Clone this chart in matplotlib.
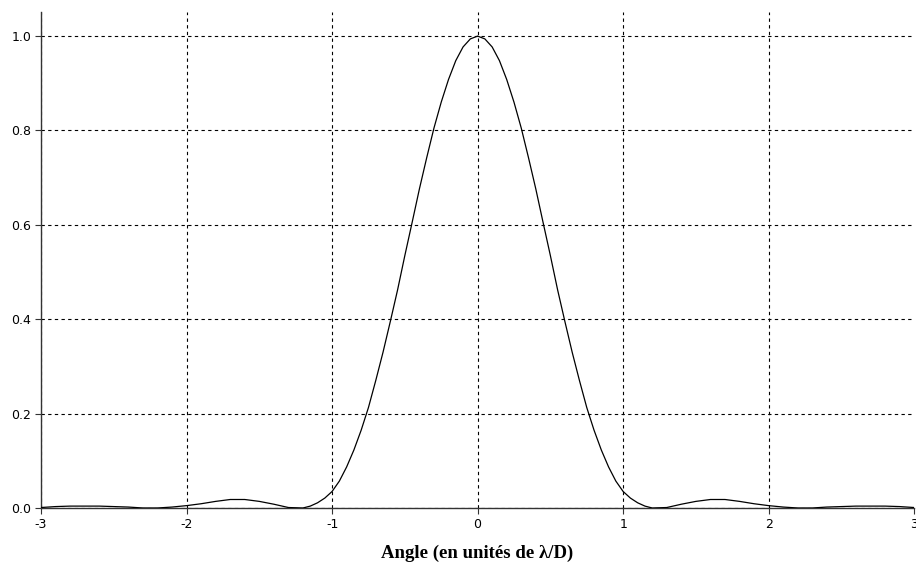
import matplotlib
matplotlib.use("Agg")
import matplotlib.pyplot as plt
from matplotlib.ticker import MultipleLocator, FuncFormatter

# ───────── Data ──────────────────────────────────────────────────────
angle = [-3.00, -2.90, -2.80, -2.70, -2.60, -2.50, -2.40, -2.30, -2.20, -2.10,
         -2.00, -1.90, -1.80, -1.70, -1.60, -1.50, -1.40, -1.30, -1.20, -1.15,
         -1.10, -1.05, -1.00, -0.95, -0.90, -0.85, -0.80, -0.75, -0.70, -0.65,
         -0.60, -0.55, -0.50, -0.45, -0.40, -0.35, -0.30, -0.25, -0.20, -0.15,
         -0.10, -0.05, 0.00, 0.05, 0.10, 0.15, 0.20, 0.25, 0.30, 0.35,
         0.40, 0.45, 0.50, 0.55, 0.60, 0.65, 0.70, 0.75, 0.80, 0.85,
         0.90, 0.95, 1.00, 1.05, 1.10, 1.15, 1.20, 1.30, 1.40, 1.50,
         1.60, 1.70, 1.80, 1.90, 2.00, 2.10, 2.20, 2.30, 2.40, 2.50,
         2.60, 2.70, 2.80, 2.90, 3.00]

intensity = [0.001, 0.003, 0.004, 0.004, 0.004, 0.003, 0.002, 0.000, 0.000, 0.002,
             0.005, 0.009, 0.014, 0.018, 0.018, 0.014, 0.008, 0.001, 0.000, 0.004,
             0.011, 0.021, 0.035, 0.057, 0.087, 0.123, 0.165, 0.213, 0.270, 0.330,
             0.395, 0.462, 0.535, 0.605, 0.676, 0.742, 0.805, 0.860, 0.908, 0.948,
             0.977, 0.994, 1.000, 0.994, 0.977, 0.948, 0.908, 0.860, 0.805, 0.742,
             0.676, 0.605, 0.535, 0.462, 0.395, 0.330, 0.270, 0.213, 0.165, 0.123,
             0.087, 0.057, 0.035, 0.021, 0.011, 0.004, 0.000, 0.001, 0.008, 0.014,
             0.018, 0.018, 0.014, 0.009, 0.005, 0.002, 0.000, 0.000, 0.002, 0.003,
             0.004, 0.004, 0.004, 0.003, 0.001]

x_ticks = [-3, -2, -1, 0, 1, 2, 3]

X_LABEL = "Angle (en unités de λ/D)"

# ───────── Plot ──────────────────────────────────────────────────────
fig = plt.figure(figsize=(9.16, 5.62), dpi=100)
ax = fig.add_axes([0.0448, 0.0961, 0.9532, 0.8825])

ax.plot(angle, intensity, color="black", lw=0.9, zorder=3)

ax.set_xlim(-3, 3)
ax.set_ylim(0, 1.051)
ax.set_xticks(x_ticks)
ax.yaxis.set_major_locator(MultipleLocator(0.2))
ax.xaxis.set_major_formatter(FuncFormatter(lambda v, _: f"{int(round(v))}"))
ax.yaxis.set_major_formatter(FuncFormatter(lambda v, _: f"{v:.1f}"))

ax.grid(True, color="black", linestyle=(0, (3, 3)), linewidth=0.8)
ax.set_axisbelow(True)
# no grid line along the right edge (x = 3)
ax.get_xgridlines()[-1].set_visible(False)

for side in ("top", "right"):
    ax.spines[side].set_visible(False)
for side in ("left", "bottom"):
    ax.spines[side].set_color("#333333")
    ax.spines[side].set_linewidth(1.0)

ax.tick_params(axis="both", labelsize=9, length=4, width=0.8,
               color="#333333", pad=3)

ax.set_xlabel(X_LABEL, fontsize=13.5, fontweight="bold",
              family="Liberation Serif", labelpad=10)

fig.savefig("out.png", dpi=100)
